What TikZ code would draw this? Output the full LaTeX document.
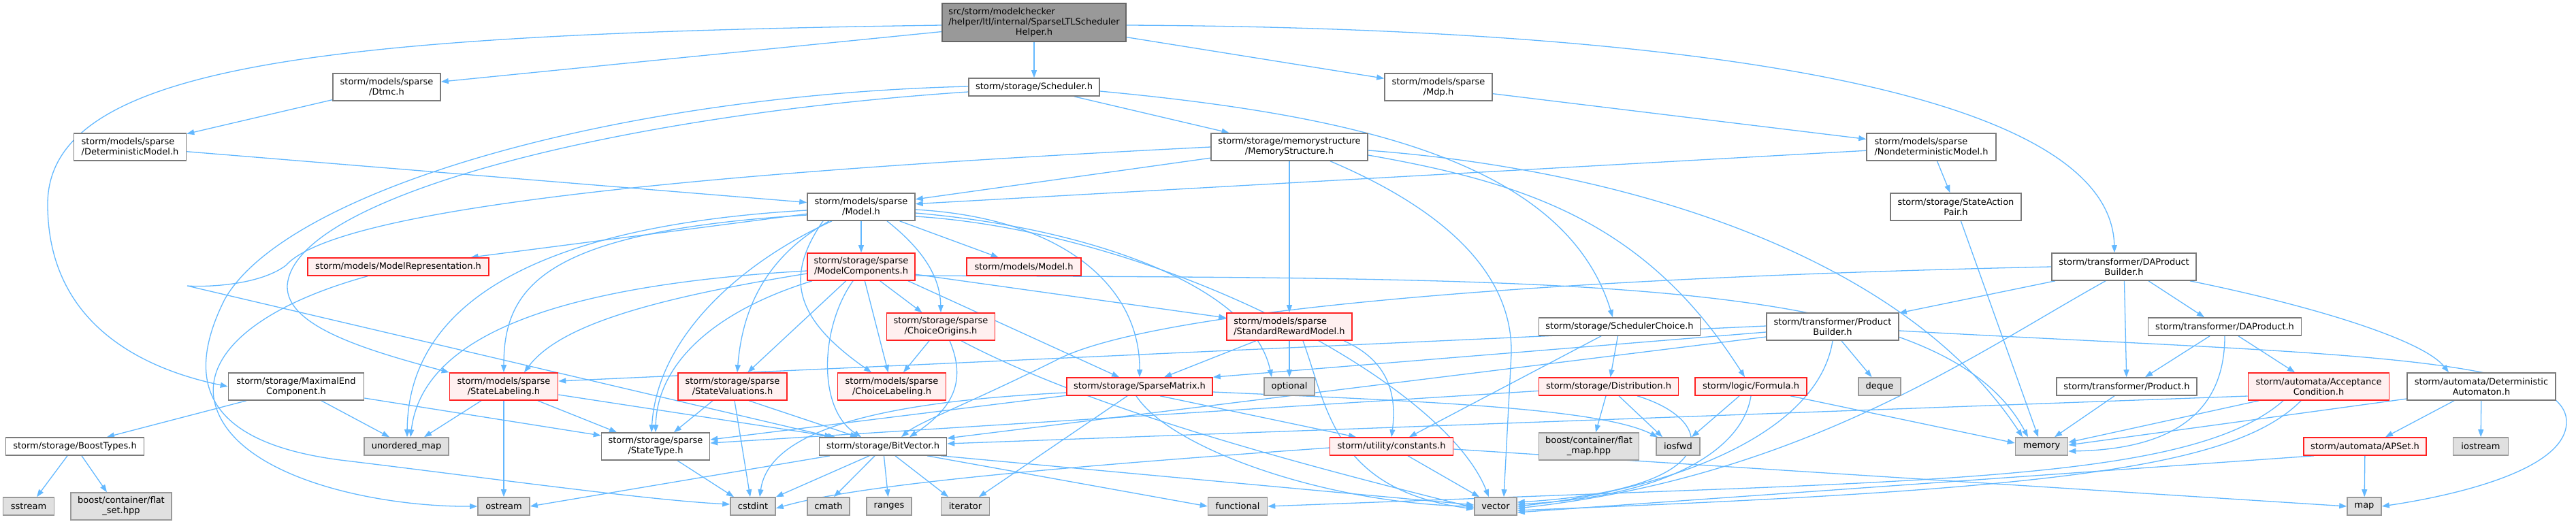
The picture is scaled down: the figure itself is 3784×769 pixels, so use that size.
\documentclass[tikz,border=0pt]{standalone}
\usepackage{fontspec}
\setmainfont{DejaVu Sans}
\usetikzlibrary{arrows.meta}
\definecolor{edgec}{HTML}{63B8FF}
\definecolor{ndborder}{HTML}{7A7A7A}
\definecolor{mainfill}{HTML}{999999}
\definecolor{mainborder}{HTML}{666666}
\definecolor{redfill}{HTML}{FFF0F0}
\definecolor{redborder}{HTML}{FF2020}
\definecolor{sysfill}{HTML}{E0E0E0}
\definecolor{sysborder}{HTML}{999999}
\newcommand\dxf{\fontsize{13}{15}\selectfont}
\pgfdeclarelayer{bg}
\pgfsetlayers{bg,main}
\tikzset{
  nd/.style={draw=ndborder, line width=1.6pt, fill=white, inner sep=0pt, font=\dxf, align=center},
  gr/.style={nd, draw=mainborder, fill=mainfill},
  rd/.style={nd, draw=redborder, fill=redfill},
  sys/.style={nd, draw=sysborder, fill=sysfill},
  sz/.style 2 args={minimum width=#1pt, minimum height=#2pt},
  dep/.style={draw=edgec, line width=1.3pt, -{Triangle[length=11pt,width=8pt]}},
}
\begin{document}
\begin{tikzpicture}[x=1pt,y=-1pt]
\useasboundingbox (0,0) rectangle (3784,769);
% nodes
\node[gr, sz={270}{56}] (main) at (1519,33) {\rlap{src/storm/modelchecker}\phantom{/helper/ltl/internal/SparseLTLScheduler}\\/helper/ltl/internal/SparseLTLScheduler\\Helper.h};
\node[nd, sz={158}{40}] (dtmc) at (568,128) {storm/models/sparse\\/Dtmc.h};
\node[nd, sz={192}{26}] (sched) at (1519,128) {storm/storage/Scheduler.h};
\node[nd, sz={158}{40}] (mdp) at (2113,128) {storm/models/sparse\\/Mdp.h};
\node[nd, sz={165}{40}, align=left] (detm) at (191,216) {storm/models/sparse\\/DeterministicModel.h};
\node[nd, sz={230}{40}] (memst) at (1894,216) {storm/storage/memorystructure\\/MemoryStructure.h};
\node[nd, sz={190}{40}, align=left] (ndm) at (2837,216) {storm/models/sparse\\/NondeterministicModel.h};
\node[nd, sz={158}{40}] (smodel) at (1265,304) {storm/models/sparse\\/Model.h};
\node[nd, sz={192}{40}] (sap) at (2873,304) {storm/storage/StateAction\\Pair.h};
\node[rd, sz={266}{26}] (mrep) at (585,392) {storm/models/ModelRepresentation.h};
\node[rd, sz={158}{40}] (mcomp) at (1265,392) {storm/storage/sparse\\/ModelComponents.h};
\node[rd, sz={168}{26}] (mmodel) at (1504,392) {storm/models/Model.h};
\node[nd, sz={212}{40}] (dapb) at (3120,392) {storm/transformer/DAProduct\\Builder.h};
\node[rd, sz={159}{40}] (corig) at (1382,480) {storm/storage/sparse\\/ChoiceOrigins.h};
\node[rd, sz={184}{40}, align=left] (srm) at (1894,480) {storm/models/sparse\\/StandardRewardModel.h};
\node[nd, sz={237}{26}] (schc) at (2379,480) {storm/storage/SchedulerChoice.h};
\node[nd, sz={194}{40}] (pb) at (2692,480) {storm/transformer/Product\\Builder.h};
\node[nd, sz={225}{26}] (dap) at (3268,480) {storm/transformer/DAProduct.h};
\node[nd, sz={199}{40}] (mec) at (435,568) {storm/storage/MaximalEnd\\Component.h};
\node[rd, sz={159}{40}] (slab) at (740,568) {storm/models/sparse\\/StateLabeling.h};
\node[rd, sz={160}{40}] (sval) at (1076,568) {storm/storage/sparse\\/StateValuations.h};
\node[rd, sz={159}{40}] (clab) at (1310,568) {storm/models/sparse\\/ChoiceLabeling.h};
\node[rd, sz={214}{26}] (spm) at (1674,568) {storm/storage/SparseMatrix.h};
\node[sys, sz={74}{26}] (optional) at (1894,568) {optional};
\node[rd, sz={205}{26}] (distr) at (2363,568) {storm/storage/Distribution.h};
\node[rd, sz={164}{26}] (formula) at (2572,568) {storm/logic/Formula.h};
\node[sys, sz={62}{26}] (deque) at (2761,568) {deque};
\node[nd, sz={206}{26}] (product) at (3124,568) {storm/transformer/Product.h};
\node[rd, sz={207}{40}] (acc) at (3406,568) {storm/automata/Acceptance\\Condition.h};
\node[nd, sz={218}{40}] (detaut) at (3645,568) {storm/automata/Deterministic\\Automaton.h};
\node[nd, sz={203}{26}] (boost) at (110,656) {storm/storage/BoostTypes.h};
\node[sys, sz={124}{26}] (umap) at (597,656) {unordered\_map};
\node[nd, sz={159}{40}] (stype) at (963,656) {storm/storage/sparse\\/StateType.h};
\node[nd, sz={187}{26}] (bitv) at (1297,656) {storm/storage/BitVector.h};
\node[rd, sz={181}{26}] (consts) at (2044,656) {storm/utility/constants.h};
\node[sys, sz={147}{40}] (fmap) at (2334,656) {boost/container/flat\\\_map.hpp};
\node[sys, sz={64}{26}] (iosfwd) at (2465,656) {iosfwd};
\node[sys, sz={77}{26}] (memory) at (2999,656) {memory};
\node[rd, sz={180}{26}] (apset) at (3474,656) {storm/automata/APSet.h};
\node[sys, sz={81}{26}] (iostream) at (3644,656) {iostream};
\node[sys, sz={75}{26}] (sstream) at (42,744) {sstream};
\node[sys, sz={148}{40}] (fset) at (178,744) {boost/container/flat\\\_set.hpp};
\node[sys, sz={76}{26}] (ostream) at (740,744) {ostream};
\node[sys, sz={66}{26}] (cstdint) at (1106,744) {cstdint};
\node[sys, sz={62}{26}] (cmath) at (1217,744) {cmath};
\node[sys, sz={66}{26}] (ranges) at (1306,744) {ranges};
\node[sys, sz={71}{26}] (iterator) at (1418,744) {iterator};
\node[sys, sz={87}{26}] (functional) at (1818,744) {functional};
\node[sys, sz={62}{26}] (vector) at (2197,744) {vector};
\node[sys, sz={50}{26}] (map) at (3473,744) {map};
% edges
\begin{pgfonlayer}{bg}
% main
\draw[dep] ([yshift=-4pt]main.west) .. controls (500,50) and (70,90) .. (70,300) .. controls (70,470) and (200,540) .. (mec.west);
\draw[dep] (main) -- (dtmc);
\draw[dep] (main) -- (sched);
\draw[dep] (main) -- (mdp);
\draw[dep] ([yshift=-4pt]main.east) .. controls (2300,40) and (3100,100) .. ([xshift=-14pt]dapb.north);
% level 1-2
\draw[dep] (dtmc) -- (detm);
\draw[dep] (detm) -- (smodel);
\draw[dep] (mdp) -- (ndm);
\draw[dep] (ndm) -- (smodel);
\draw[dep] (ndm) -- (sap);
\draw[dep] (sap) -- (memory);
% Scheduler
\draw[dep] (sched) -- (memst);
\draw[dep] ([yshift=-6pt]sched.east) .. controls (2000,170) and (2300,240) .. ([xshift=-10pt]schc.north);
\draw[dep] ([yshift=1pt]sched.west) .. controls (900,140) and (420,280) .. (330,440) .. controls (270,560) and (300,650) .. (500,676) .. controls (700,700) and (950,735) .. ([yshift=3pt]cstdint.west);
\draw[dep] ([yshift=-7pt]sched.west) .. controls (900,170) and (430,290) .. (422,420) .. controls (420,480) and (540,515) .. (slab.north west);
% MemoryStructure
\draw[dep] (memst.west) .. controls (1100,250) and (500,300) .. (420,390) .. controls (380,420) and (300,422) .. (275,420) -- ([xshift=-75pt]bitv.north);
\draw[dep] (memst) -- (smodel);
\draw[dep] (memst) -- (srm);
\draw[dep] ([xshift=60pt]memst.south) .. controls (2150,320) and (2222,420) .. (2220,520) -- ([xshift=12pt]vector.north);
\draw[dep] ([yshift=-12pt]memst.east) .. controls (2250,270) and (2420,330) .. ([xshift=-9pt]formula.north);
\draw[dep] ([yshift=-5pt]memst.east) .. controls (2400,250) and (2800,380) .. ([xshift=-28pt]memory.north);
% sparse Model.h
\draw[dep] (smodel) -- (mcomp);
\draw[dep] (smodel) -- (mmodel);
\draw[dep] (smodel) -- (mrep);
\draw[dep] ([yshift=-5pt]smodel.west) .. controls (820,330) and (600,430) .. ([xshift=1pt]umap.north);
\draw[dep] ([yshift=-12pt]smodel.west) .. controls (800,340) and (740,420) .. (slab.north);
\draw[dep] ([xshift=-43pt]smodel.south) .. controls (1080,390) and (965,500) .. ([xshift=-6pt]stype.north);
\draw[dep] ([xshift=-47pt]smodel.south) .. controls (1120,380) and (1090,460) .. ([xshift=7pt]sval.north);
\draw[dep] ([xshift=-56pt]smodel.south) .. controls (1150,410) and (1170,470) .. ([xshift=-30pt]clab.north);
\draw[dep] ([xshift=38pt]smodel.south) .. controls (1360,370) and (1381,410) .. (corig.north);
\draw[dep] ([yshift=-4pt]smodel.east) .. controls (1560,320) and (1675,420) .. (spm.north);
\draw[dep] ([yshift=-9pt]smodel.east) .. controls (1600,335) and (1840,420) .. ([xshift=-26pt]optional.north);
\draw[dep] ([yshift=-14pt]smodel.east) .. controls (1700,340) and (2120,560) .. ([xshift=-10pt]vector.north);
% ModelComponents
\draw[dep] ([yshift=-6pt]mcomp.west) .. controls (800,420) and (620,500) .. ([xshift=6pt]umap.north);
\draw[dep] ([yshift=-10pt]mcomp.west) .. controls (950,440) and (820,480) .. ([xshift=30pt]slab.north);
\draw[dep] ([xshift=-72pt]mcomp.south) .. controls (1040,460) and (965,540) .. (stype.north);
\draw[dep] (mcomp) -- (sval);
\draw[dep] ([xshift=-12pt]mcomp.south) .. controls (1205,480) and (1200,600) .. ([xshift=-32pt]bitv.north);
\draw[dep] (mcomp) -- (clab);
\draw[dep] (mcomp) -- (corig);
\draw[dep] ([xshift=69pt]mcomp.south) -- ([xshift=-30pt]spm.north);
\draw[dep] ([yshift=-13pt]mcomp.east) .. controls (2300,410) and (2850,400) .. ([xshift=-20pt]memory.north);
\draw[dep] (mcomp) -- (srm);
% ChoiceOrigins
\draw[dep] (corig) -- (clab);
\draw[dep] ([xshift=13pt]corig.south) .. controls (1420,560) and (1400,600) .. ([xshift=39pt]bitv.north);
\draw[dep] ([xshift=30pt]corig.south) .. controls (1600,600) and (1900,680) .. ([yshift=-2pt]vector.west);
% StandardRewardModel
\draw[dep] ([xshift=-49pt]srm.south) -- ([xshift=36pt]spm.north);
\draw[dep] (srm) -- (optional);
\draw[dep] ([xshift=20pt]srm.south) .. controls (1950,600) and (1960,720) .. ([yshift=-4pt]vector.west);
\draw[dep] ([xshift=80pt]srm.south) .. controls (2040,530) and (2052,580) .. (consts.north);
% SchedulerChoice
\draw[dep] (schc) -- (distr);
\draw[dep] ([xshift=-27pt]schc.south) -- ([xshift=26pt]consts.north);
% SparseMatrix
\draw[dep] (spm) -- (stype);
\draw[dep] ([yshift=-9pt]spm.west) .. controls (1300,590) and (1130,630) .. ([xshift=10pt]cstdint.north);
\draw[dep] ([xshift=-18pt]spm.south) -- ([xshift=20pt]iterator.north);
\draw[dep] ([xshift=-5pt]spm.south) .. controls (1720,660) and (1950,740) .. ([yshift=0pt]vector.west);
\draw[dep] ([xshift=30pt]spm.south) -- ([xshift=-52pt]consts.north);
\draw[dep] ([yshift=-8pt]spm.east) .. controls (2100,590) and (2350,600) .. ([xshift=-30pt]iosfwd.north);
% BitVector
\draw[dep] ([xshift=-78pt]bitv.south) -- (ostream.east);
\draw[dep] ([xshift=-20pt]bitv.south) -- (cstdint.north east);
\draw[dep] ([xshift=-12pt]bitv.south) -- ([xshift=8pt]cmath.north);
\draw[dep] (bitv) -- (ranges);
\draw[dep] ([xshift=18pt]bitv.south) -- ([xshift=-25pt]iterator.north);
\draw[dep] ([xshift=65pt]bitv.south) -- (functional.west);
\draw[dep] ([xshift=85pt]bitv.south) -- ([yshift=2pt]vector.west);
% constants
\draw[dep] ([yshift=-2pt]consts.west) .. controls (1500,690) and (1250,715) .. ([yshift=-3pt]cstdint.east);
\draw[dep] (consts) -- (vector);
\draw[dep] ([yshift=-4pt]consts.east) -- (map.west);
% Distribution
\draw[dep] (distr) -- (stype);
\draw[dep] ([xshift=-4pt]distr.south) -- ([xshift=10pt]fmap.north);
\draw[dep] ([xshift=15pt]distr.south) -- ([xshift=-23pt]iosfwd.north);
\draw[dep] ([xshift=42pt]distr.south) .. controls (2530,620) and (2530,720) .. ([yshift=6pt]vector.east);
% Formula
\draw[dep] ([xshift=-17pt]formula.south) -- ([xshift=20pt]iosfwd.north);
\draw[dep] (formula.south) .. controls (2560,660) and (2450,730) .. ([yshift=3pt]vector.east);
\draw[dep] ([xshift=58pt]formula.south) -- ([yshift=5pt]memory.west);
% ProductBuilder
\draw[dep] ([yshift=1pt]pb.west) -- ([yshift=8pt]slab.east);
\draw[dep] ([yshift=-8pt]pb.west) -- (spm.north east);
\draw[dep] ([yshift=-15pt]pb.west) -- ([yshift=12pt]bitv.east);
\draw[dep] (pb.south) .. controls (2670,640) and (2450,720) .. ([yshift=0pt]vector.east);
\draw[dep] ([xshift=13pt]pb.south) -- (deque);
\draw[dep] ([yshift=-6pt]pb.east) .. controls (3400,520) and (3770,520) .. (3770,620) .. controls (3770,700) and (3560,735) .. (map.east);
% DAProductBuilder
\draw[dep] (dapb.west) .. controls (2200,410) and (1700,460) .. (1560,525) .. controls (1430,590) and (1350,620) .. ([xshift=27pt]bitv.north);
\draw[dep] (dapb) -- (pb);
\draw[dep] ([xshift=-27pt]dapb.south) .. controls (2900,520) and (2650,700) .. ([yshift=-3pt]vector.east);
\draw[dep] (dapb) -- (product);
\draw[dep] ([xshift=36pt]dapb.south) -- ([xshift=-30pt]dap.north);
\draw[dep] ([xshift=97pt]dapb.south) .. controls (3400,450) and (3560,500) .. ([xshift=-48pt]detaut.north);
% DAProduct
\draw[dep] ([xshift=-22pt]dap.south) -- ([xshift=27pt]product.north);
\draw[dep] (dap.south) .. controls (3268,600) and (3200,660) .. ([yshift=-7pt]memory.east);
\draw[dep] ([xshift=20pt]dap.south) -- ([xshift=-35pt]acc.north);
% Product
\draw[dep] ([xshift=-18pt]product.south) -- ([xshift=19pt]memory.north);
% AcceptanceCondition
\draw[dep] ([xshift=-88pt]acc.south) -- ([yshift=6pt]memory.east);
\draw[dep] ([yshift=-14pt]acc.west) -- ([yshift=4pt]bitv.east);
\draw[dep] ([xshift=-52pt]acc.south) .. controls (3250,680) and (3000,700) .. (2550,718) -- (functional.east);
\draw[dep] ([xshift=-26pt]acc.south) .. controls (3280,690) and (3000,720) .. ([yshift=-6pt]vector.east);
% DeterministicAutomaton
\draw[dep] ([xshift=-40pt]detaut.south) -- ([xshift=30pt]apset.north);
\draw[dep] (detaut) -- (iostream);
\draw[dep] ([yshift=-18pt]detaut.west) -- ([yshift=2pt]memory.east);
% APSet
\draw[dep] (apset) -- (map);
\draw[dep] ([xshift=-75pt]apset.south) -- ([yshift=-9pt]vector.east);
% MaximalEndComponent
\draw[dep] ([xshift=-73pt]mec.south) -- ([xshift=47pt]boost.north);
\draw[dep] ([xshift=37pt]mec.south) -- ([xshift=-25pt]umap.north);
\draw[dep] ([yshift=-17pt]mec.east) -- ([yshift=16pt]stype.west);
% BoostTypes
\draw[dep] ([xshift=-11pt]boost.south) -- ([xshift=12pt]sstream.north);
\draw[dep] ([xshift=10pt]boost.south) -- ([xshift=-21pt]fset.north);
% StateLabeling
\draw[dep] ([xshift=-33pt]slab.south) -- ([xshift=26pt]umap.north);
\draw[dep] (slab) -- (ostream);
\draw[dep] ([xshift=50pt]slab.south) -- ([xshift=-57pt]stype.north);
\draw[dep] ([yshift=-12pt]slab.east) -- ([xshift=-70pt]bitv.north);
% StateValuations
\draw[dep] ([xshift=-29pt]sval.south) -- ([xshift=27pt]stype.north);
\draw[dep] ([xshift=3pt]sval.south) -- ([xshift=-4pt]cstdint.north);
\draw[dep] ([xshift=24pt]sval.south) -- ([xshift=-37pt]bitv.north);
% StateType
\draw[dep] ([xshift=32pt]stype.south) -- ([xshift=-28pt]cstdint.north);
% ModelRepresentation
\draw[dep] ([xshift=-45pt]mrep.south) .. controls (380,450) and (300,520) .. (315,590) .. controls (340,700) and (550,745) .. (ostream.west);
\end{pgfonlayer}
\end{tikzpicture}
\end{document}
